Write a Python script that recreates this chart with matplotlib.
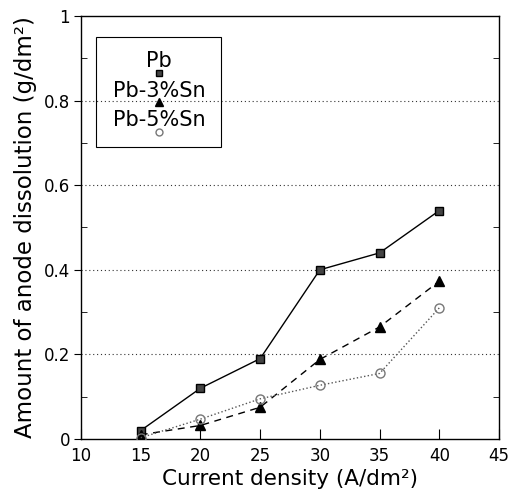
import numpy as np
import matplotlib.pyplot as plt
from matplotlib.patches import Rectangle
from matplotlib.ticker import MultipleLocator

plt.rcParams['font.family'] = ['DejaVu Sans']

# data
current = [15, 20, 25, 30, 35, 40]
pb = [0.02, 0.12, 0.19, 0.40, 0.44, 0.54]
pb3sn = [0.01, 0.032, 0.075, 0.188, 0.265, 0.373]
pb5sn = [0.003, 0.047, 0.095, 0.127, 0.155, 0.31]
labels = ['Pb', 'Pb-3%Sn', 'Pb-5%Sn']

fig = plt.figure(figsize=(5.18, 5.01), dpi=100)
ax = fig.add_axes([81/518, 1 - 439/501, 418/518, 423/501])

ax.plot(current, pb, '-', color='black', lw=1.0, marker='s', ms=6,
        mfc='#444444', mec='black', zorder=3)
ax.plot(current, pb3sn, '--', color='black', lw=1.0, dashes=(5, 4),
        marker='^', ms=7.5, mfc='black', mec='black', zorder=3)
ax.plot(current, pb5sn, ':', color='#555555', lw=1.0, marker='o', ms=6.5,
        mfc='none', mec='#777777', zorder=3)

ax.set_xlim(10, 45)
ax.set_ylim(0, 1)
ax.xaxis.set_major_locator(MultipleLocator(5))
ax.yaxis.set_minor_locator(MultipleLocator(0.1))
ax.set_yticks([0, 0.2, 0.4, 0.6, 0.8, 1.0])
ax.set_yticklabels(['0', '0.2', '0.4', '0.6', '0.8', '1'])

for y in [0.2, 0.4, 0.6, 0.8]:
    ax.axhline(y, color='#333333', lw=0.8, ls=(0, (1, 2.5)), zorder=1)

ax.tick_params(axis='x', which='major', direction='in', length=7,
               labelsize=12, pad=6)
ax.tick_params(axis='y', which='major', direction='out', length=5,
               labelsize=12, pad=3)
ax.tick_params(axis='y', which='minor', direction='in', length=4,
               right=True)
for s in ax.spines.values():
    s.set_linewidth(1.0)

ax.set_xlabel('Current density (A/dm²)', fontsize=15.5, labelpad=3)
ax.set_ylabel('Amount of anode dissolution (g/dm²)', fontsize=16.5, labelpad=5)

# legend box drawn by hand: label with marker just underneath
ax.add_patch(Rectangle((0.036, 0.69), 0.30, 0.26, transform=ax.transAxes,
                       fill=False, ec='black', lw=0.8, zorder=4))
txt_y = [0.893, 0.823, 0.753]
mk_y = [0.866, 0.797, 0.726]
styles = [dict(marker='s', ms=5, mfc='#444444', mec='black'),
          dict(marker='^', ms=6, mfc='black', mec='black'),
          dict(marker='o', ms=5, mfc='none', mec='#777777')]
for lab, ty, my, st in zip(labels, txt_y, mk_y, styles):
    ax.text(0.187, ty, lab, transform=ax.transAxes, ha='center',
            va='center', fontsize=15, zorder=5)
    ax.plot([0.187], [my], transform=ax.transAxes, ls='none',
            zorder=5, clip_on=False, **st)

fig.savefig('out.png', dpi=100)
